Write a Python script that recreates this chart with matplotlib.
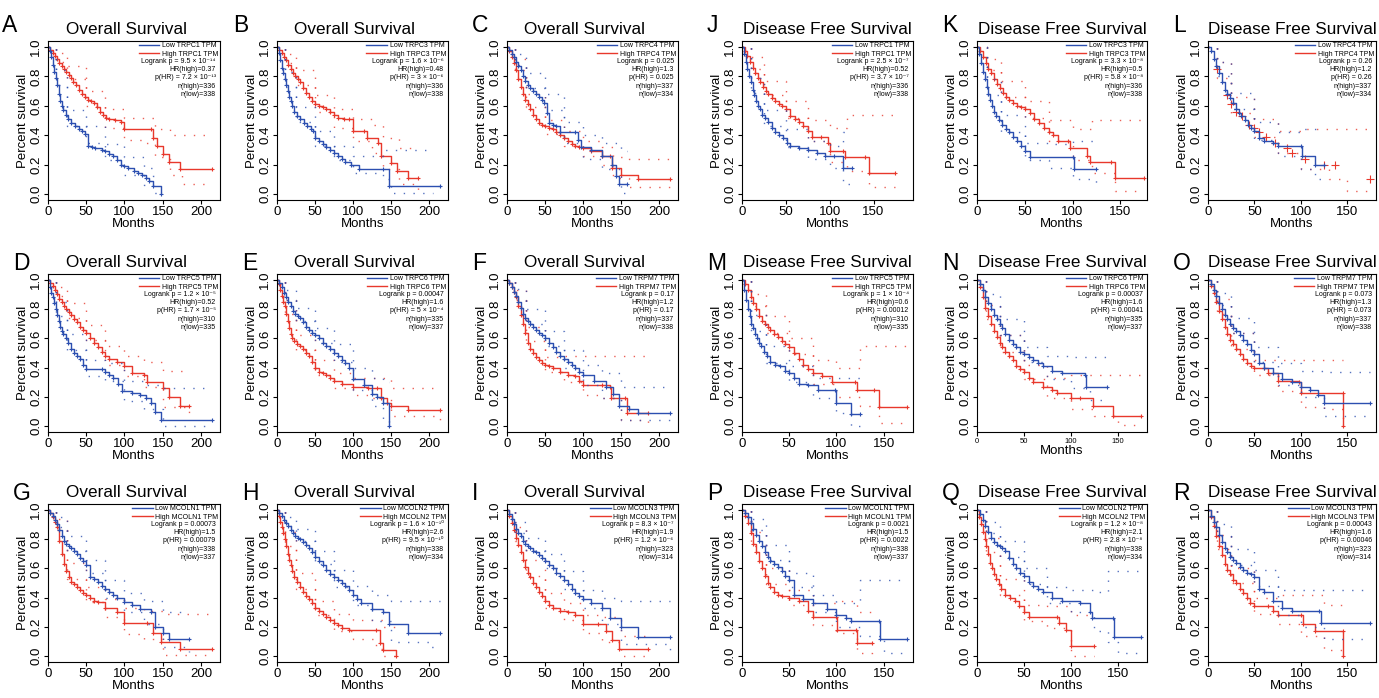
import matplotlib
matplotlib.use('Agg')
import matplotlib.pyplot as plt
from matplotlib.lines import Line2D

plt.rcParams['font.family'] = ['Liberation Sans', 'DejaVu Sans']

# ---- panel text ----
PANEL_IDS = list("ABCDEFGHIJKLMNOPQR")
GENES = ['TRPC1', 'TRPC3', 'TRPC4', 'TRPC5', 'TRPC6', 'TRPM7', 'MCOLN1', 'MCOLN2', 'MCOLN3',
         'TRPC1', 'TRPC3', 'TRPC4', 'TRPC5', 'TRPC6', 'TRPM7', 'MCOLN1', 'MCOLN2', 'MCOLN3']
LOGRANK_P = ['9.5e-14', '1.6e-6', '0.025', '1.2e-5', '0.00047', '0.17', '0.00073', '1.6e-10', '8.3e-7',
             '2.5e-7', '3.3e-8', '0.26', '1e-4', '0.00037', '0.073', '0.0021', '1.2e-8', '0.00043']
HR_HIGH = ['0.37', '0.48', '1.3', '0.52', '1.6', '1.2', '1.5', '2.6', '1.9',
           '0.52', '0.5', '1.2', '0.6', '1.6', '1.3', '1.5', '2.1', '1.6']
P_HR = ['7.2e-13', '3e-6', '0.025', '1.7e-5', '5e-4', '0.17', '0.00079', '9.5e-10', '1.2e-6',
        '3.7e-7', '5.8e-8', '0.26', '0.00012', '0.00041', '0.073', '0.0022', '2.8e-8', '0.00046']
N_HIGH = [336, 336, 337, 310, 335, 337, 338, 338, 323, 336, 336, 337, 310, 335, 337, 338, 338, 323]
N_LOW = [338, 338, 334, 335, 337, 338, 337, 334, 314, 338, 338, 334, 335, 337, 338, 337, 334, 314]

GRID = [['A', 'B', 'C', 'J', 'K', 'L'],
        ['D', 'E', 'F', 'M', 'N', 'O'],
        ['G', 'H', 'I', 'P', 'Q', 'R']]

OS_TICKS = [0, 50, 100, 150, 200]
DFS_TICKS = [0, 50, 100, 150]
Y_TICKS = [0.0, 0.2, 0.4, 0.6, 0.8, 1.0]

# ---- curves: (months, survival) and CI: (months, lower, upper) ----
A_low = [(0, 1.0), (2, 0.97), (4, 0.93), (6, 0.88), (8, 0.83), (10, 0.79), (12, 0.74), (14, 0.68), (16, 0.63),
         (18, 0.60), (20, 0.57), (23, 0.54), (26, 0.51), (30, 0.48), (35, 0.46), (40, 0.44), (44, 0.43), (48, 0.41),
         (52, 0.33), (58, 0.32), (62, 0.31), (70, 0.30), (75, 0.29), (80, 0.27), (85, 0.26), (90, 0.23), (95, 0.20),
         (100, 0.19), (105, 0.18), (112, 0.16), (118, 0.14), (123, 0.13), (128, 0.11), (132, 0.09), (137, 0.055),
         (148, 0.0)]
A_low_ci = [(0, 1, 1), (10, 0.74, 0.84), (25, 0.46, 0.57), (50, 0.35, 0.46), (75, 0.23, 0.34), (100, 0.13, 0.25),
            (125, 0.06, 0.18), (137, 0.01, 0.12), (148, 0.0, 0.12)]
A_high = [(0, 1.0), (3, 0.98), (6, 0.96), (9, 0.94), (12, 0.92), (15, 0.89), (18, 0.87), (21, 0.85), (24, 0.83),
          (27, 0.81), (30, 0.79), (33, 0.76), (36, 0.74), (40, 0.71), (44, 0.68), (48, 0.66), (52, 0.64), (56, 0.63),
          (60, 0.62), (64, 0.59), (68, 0.56), (72, 0.54), (76, 0.52), (80, 0.51), (88, 0.50), (95, 0.49), (100, 0.44),
          (135, 0.44), (137, 0.38), (142, 0.33), (150, 0.27), (158, 0.22), (173, 0.17), (215, 0.17)]
A_high_ci = [(0, 1, 1), (10, 0.90, 0.96), (25, 0.78, 0.87), (50, 0.60, 0.70), (75, 0.45, 0.58), (100, 0.37, 0.52),
             (125, 0.35, 0.52), (140, 0.25, 0.44), (160, 0.13, 0.40), (175, 0.07, 0.40), (215, 0.07, 0.40)]

B_low = [(0, 1.0), (2, 0.96), (4, 0.91), (6, 0.86), (8, 0.82), (10, 0.78), (12, 0.74), (14, 0.70), (16, 0.66),
         (18, 0.63), (20, 0.60), (23, 0.56), (26, 0.53), (30, 0.51), (35, 0.48), (40, 0.46), (45, 0.44), (48, 0.43),
         (50, 0.38), (55, 0.36), (60, 0.34), (65, 0.32), (70, 0.30), (75, 0.28), (80, 0.26), (85, 0.24), (90, 0.22),
         (98, 0.20), (108, 0.17), (140, 0.17), (148, 0.055), (215, 0.055)]
B_low_ci = [(0, 1, 1), (10, 0.73, 0.83), (25, 0.49, 0.59), (50, 0.33, 0.43), (75, 0.23, 0.33), (100, 0.14, 0.26),
            (140, 0.10, 0.30), (150, 0.01, 0.30), (205, 0.01, 0.30)]
B_high = [(0, 1.0), (3, 0.98), (6, 0.96), (9, 0.93), (12, 0.91), (15, 0.88), (18, 0.85), (21, 0.82), (24, 0.80),
          (27, 0.78), (30, 0.76), (34, 0.72), (38, 0.69), (42, 0.66), (46, 0.63), (50, 0.61), (55, 0.60), (60, 0.59),
          (65, 0.58), (70, 0.56), (75, 0.54), (80, 0.52), (88, 0.51), (95, 0.51), (100, 0.43), (115, 0.43),
          (118, 0.38), (133, 0.35), (137, 0.26), (150, 0.21), (158, 0.16), (173, 0.11), (185, 0.11)]
B_high_ci = [(0, 1, 1), (10, 0.89, 0.95), (25, 0.74, 0.84), (50, 0.56, 0.67), (75, 0.45, 0.58), (100, 0.36, 0.51),
             (125, 0.28, 0.47), (140, 0.17, 0.38), (160, 0.07, 0.31), (185, 0.03, 0.31)]

C_low = [(0, 1.0), (3, 0.98), (6, 0.95), (9, 0.93), (12, 0.90), (15, 0.87), (18, 0.84), (21, 0.80), (24, 0.77),
         (27, 0.74), (30, 0.72), (34, 0.70), (38, 0.68), (42, 0.66), (46, 0.64), (49, 0.62), (52, 0.55), (55, 0.48),
         (60, 0.47), (65, 0.46), (70, 0.42), (90, 0.42), (93, 0.37), (98, 0.32), (110, 0.30), (125, 0.26),
         (138, 0.20), (143, 0.12), (148, 0.07), (158, 0.07)]
C_low_ci = [(0, 1, 1), (10, 0.88, 0.95), (25, 0.72, 0.82), (50, 0.57, 0.68), (75, 0.35, 0.49), (100, 0.24, 0.40),
            (125, 0.17, 0.35), (150, 0.01, 0.29), (158, 0.01, 0.29)]
C_high = [(0, 1.0), (3, 0.97), (6, 0.93), (9, 0.89), (12, 0.84), (15, 0.78), (18, 0.73), (21, 0.68), (24, 0.64),
          (27, 0.61), (30, 0.58), (34, 0.54), (38, 0.51), (42, 0.48), (46, 0.47), (50, 0.46), (55, 0.45), (60, 0.44),
          (65, 0.42), (70, 0.40), (75, 0.38), (80, 0.36), (85, 0.34), (90, 0.33), (95, 0.32), (100, 0.31),
          (110, 0.29), (125, 0.26), (135, 0.26), (138, 0.18), (150, 0.13), (173, 0.10), (215, 0.10)]
C_high_ci = [(0, 1, 1), (10, 0.84, 0.92), (25, 0.59, 0.68), (50, 0.41, 0.50), (75, 0.33, 0.43), (100, 0.26, 0.36),
             (125, 0.20, 0.32), (140, 0.11, 0.25), (160, 0.05, 0.24), (215, 0.03, 0.24)]

D_low = [(0, 1.0), (2, 0.95), (4, 0.91), (6, 0.88), (8, 0.84), (10, 0.80), (12, 0.76), (14, 0.72), (16, 0.68),
         (18, 0.65), (20, 0.63), (23, 0.60), (26, 0.57), (30, 0.53), (34, 0.50), (38, 0.48), (42, 0.46), (46, 0.42),
         (50, 0.39), (70, 0.39), (75, 0.37), (80, 0.35), (85, 0.33), (92, 0.29), (97, 0.24), (110, 0.23),
         (120, 0.21), (128, 0.19), (135, 0.16), (140, 0.10), (148, 0.04), (215, 0.04)]
D_low_ci = [(0, 1, 1), (10, 0.75, 0.85), (25, 0.52, 0.63), (50, 0.34, 0.45), (75, 0.31, 0.43), (100, 0.17, 0.31),
            (125, 0.12, 0.28), (150, 0.0, 0.26), (205, 0.0, 0.26)]
D_high = [(0, 1.0), (3, 0.98), (6, 0.96), (9, 0.93), (12, 0.90), (15, 0.87), (18, 0.85), (21, 0.82), (24, 0.80),
          (27, 0.78), (30, 0.76), (34, 0.73), (38, 0.71), (42, 0.68), (46, 0.66), (50, 0.64), (55, 0.60), (60, 0.57),
          (65, 0.54), (70, 0.51), (75, 0.48), (80, 0.46), (90, 0.44), (100, 0.41), (110, 0.36), (125, 0.35),
          (130, 0.30), (150, 0.26), (158, 0.20), (173, 0.14), (185, 0.14)]
D_high_ci = [(0, 1, 1), (10, 0.89, 0.95), (25, 0.74, 0.84), (50, 0.59, 0.69), (75, 0.42, 0.55), (100, 0.34, 0.48),
             (125, 0.27, 0.44), (150, 0.13, 0.38), (185, 0.04, 0.38)]

E_low = [(0, 1.0), (3, 0.98), (6, 0.95), (9, 0.91), (12, 0.88), (15, 0.85), (18, 0.82), (21, 0.79), (24, 0.77),
         (27, 0.75), (30, 0.74), (34, 0.71), (38, 0.68), (42, 0.66), (46, 0.64), (50, 0.62), (55, 0.60), (60, 0.57),
         (65, 0.55), (70, 0.53), (75, 0.50), (80, 0.48), (85, 0.45), (90, 0.43), (95, 0.40), (100, 0.32),
         (115, 0.28), (125, 0.22), (132, 0.20), (140, 0.16), (148, 0.0)]
E_low_ci = [(0, 1, 1), (10, 0.86, 0.93), (25, 0.72, 0.81), (50, 0.57, 0.67), (75, 0.44, 0.56), (100, 0.25, 0.40),
            (125, 0.14, 0.33), (140, 0.05, 0.30), (148, 0.0, 0.30)]
E_high = [(0, 1.0), (2, 0.97), (4, 0.93), (6, 0.89), (8, 0.85), (10, 0.82), (12, 0.77), (14, 0.72), (16, 0.67),
          (18, 0.63), (20, 0.60), (23, 0.58), (26, 0.56), (30, 0.55), (34, 0.53), (38, 0.50), (42, 0.48), (46, 0.44),
          (50, 0.40), (55, 0.37), (60, 0.36), (65, 0.35), (70, 0.33), (75, 0.31), (85, 0.29), (100, 0.27),
          (120, 0.26), (132, 0.26), (137, 0.19), (145, 0.16), (150, 0.14), (173, 0.11), (215, 0.11)]
E_high_ci = [(0, 1, 1), (10, 0.77, 0.86), (25, 0.52, 0.62), (50, 0.35, 0.45), (75, 0.26, 0.36), (100, 0.21, 0.33),
             (125, 0.19, 0.33), (150, 0.07, 0.26), (215, 0.04, 0.26)]

F_low = [(0, 1.0), (3, 0.98), (6, 0.95), (9, 0.92), (12, 0.89), (15, 0.85), (18, 0.81), (21, 0.77), (24, 0.74),
         (27, 0.72), (30, 0.70), (34, 0.68), (38, 0.66), (42, 0.64), (46, 0.62), (50, 0.60), (55, 0.57), (60, 0.54),
         (65, 0.51), (70, 0.48), (75, 0.46), (80, 0.44), (85, 0.42), (90, 0.40), (95, 0.37), (100, 0.35),
         (115, 0.31), (130, 0.27), (140, 0.22), (148, 0.14), (160, 0.12), (173, 0.09), (215, 0.09)]
F_low_ci = [(0, 1, 1), (10, 0.87, 0.94), (25, 0.70, 0.80), (50, 0.55, 0.65), (75, 0.40, 0.52), (100, 0.28, 0.42),
            (125, 0.19, 0.36), (150, 0.04, 0.27), (215, 0.04, 0.27)]
F_high = [(0, 1.0), (3, 0.98), (6, 0.95), (9, 0.92), (12, 0.88), (15, 0.82), (18, 0.76), (21, 0.70), (24, 0.64),
          (27, 0.57), (30, 0.53), (34, 0.50), (38, 0.47), (42, 0.45), (46, 0.43), (50, 0.42), (55, 0.41), (60, 0.40),
          (70, 0.37), (80, 0.35), (90, 0.34), (95, 0.31), (100, 0.28), (125, 0.28), (135, 0.27), (137, 0.19),
          (155, 0.19), (158, 0.09), (185, 0.09)]
F_high_ci = [(0, 1, 1), (10, 0.86, 0.93), (25, 0.58, 0.68), (50, 0.37, 0.47), (75, 0.30, 0.48), (100, 0.21, 0.48),
             (125, 0.19, 0.48), (150, 0.04, 0.48), (185, 0.02, 0.48)]

G_low = [(0, 1.0), (3, 0.98), (6, 0.96), (9, 0.93), (12, 0.90), (15, 0.86), (18, 0.82), (21, 0.79), (24, 0.77),
         (27, 0.75), (30, 0.74), (34, 0.72), (38, 0.70), (42, 0.67), (46, 0.65), (50, 0.62), (55, 0.54), (60, 0.53),
         (65, 0.51), (70, 0.48), (75, 0.46), (80, 0.44), (85, 0.42), (90, 0.40), (100, 0.37), (110, 0.35),
         (120, 0.32), (135, 0.30), (140, 0.20), (150, 0.16), (158, 0.12), (185, 0.12)]
G_low_ci = [(0, 1, 1), (10, 0.88, 0.95), (25, 0.72, 0.82), (50, 0.57, 0.66), (75, 0.40, 0.52), (100, 0.30, 0.43),
            (125, 0.22, 0.38), (150, 0.06, 0.30), (185, 0.03, 0.30)]
G_high = [(0, 1.0), (3, 0.98), (6, 0.95), (9, 0.92), (12, 0.88), (15, 0.79), (18, 0.70), (21, 0.63), (24, 0.58),
          (27, 0.54), (30, 0.51), (34, 0.49), (38, 0.47), (42, 0.45), (46, 0.43), (50, 0.42), (55, 0.40), (60, 0.38),
          (65, 0.37), (75, 0.33), (90, 0.30), (100, 0.23), (130, 0.23), (137, 0.16), (148, 0.10), (173, 0.05),
          (215, 0.05)]
G_high_ci = [(0, 1, 1), (10, 0.86, 0.94), (25, 0.53, 0.64), (50, 0.37, 0.47), (75, 0.27, 0.39), (100, 0.15, 0.33),
             (125, 0.12, 0.31), (150, 0.01, 0.29), (215, 0.01, 0.29)]

H_low = [(0, 1.0), (3, 0.98), (6, 0.96), (9, 0.93), (12, 0.91), (15, 0.89), (18, 0.86), (21, 0.84), (24, 0.82),
         (27, 0.81), (30, 0.80), (34, 0.78), (38, 0.76), (42, 0.74), (46, 0.71), (50, 0.68), (55, 0.65), (60, 0.62),
         (65, 0.59), (70, 0.56), (75, 0.54), (80, 0.52), (85, 0.50), (90, 0.48), (95, 0.45), (100, 0.42),
         (105, 0.39), (110, 0.36), (125, 0.32), (140, 0.30), (147, 0.22), (173, 0.16), (215, 0.16)]
H_low_ci = [(0, 1, 1), (10, 0.89, 0.95), (25, 0.79, 0.87), (50, 0.63, 0.72), (75, 0.47, 0.59), (100, 0.35, 0.48),
            (125, 0.24, 0.42), (150, 0.10, 0.38), (200, 0.06, 0.38), (215, 0.06, 0.38)]
H_high = [(0, 1.0), (2, 0.96), (4, 0.92), (6, 0.88), (8, 0.84), (10, 0.80), (12, 0.75), (14, 0.70), (16, 0.66),
          (18, 0.62), (20, 0.58), (23, 0.54), (26, 0.51), (30, 0.47), (34, 0.44), (38, 0.41), (42, 0.39), (46, 0.36),
          (50, 0.33), (55, 0.31), (60, 0.29), (65, 0.27), (70, 0.25), (75, 0.23), (80, 0.21), (85, 0.19), (95, 0.18),
          (130, 0.18), (135, 0.09), (140, 0.04), (157, 0.0)]
H_high_ci = [(0, 1, 1), (10, 0.75, 0.85), (25, 0.46, 0.57), (50, 0.28, 0.38), (75, 0.17, 0.29), (100, 0.12, 0.25),
             (130, 0.05, 0.25), (140, 0.0, 0.20), (157, 0.0, 0.20)]

I_low = [(0, 1.0), (3, 0.97), (6, 0.94), (9, 0.90), (12, 0.87), (15, 0.84), (18, 0.82), (21, 0.79), (24, 0.77),
         (27, 0.75), (30, 0.74), (34, 0.72), (38, 0.71), (42, 0.69), (46, 0.67), (50, 0.65), (55, 0.62), (60, 0.60),
         (65, 0.57), (70, 0.55), (75, 0.52), (80, 0.49), (85, 0.46), (90, 0.43), (95, 0.41), (100, 0.39),
         (110, 0.36), (125, 0.33), (135, 0.26), (150, 0.20), (173, 0.13), (215, 0.13)]
I_low_ci = [(0, 1, 1), (10, 0.84, 0.92), (25, 0.72, 0.81), (50, 0.60, 0.70), (75, 0.46, 0.58), (100, 0.33, 0.45),
            (125, 0.22, 0.40), (150, 0.08, 0.38), (215, 0.04, 0.38)]
I_high = [(0, 1.0), (3, 0.96), (6, 0.91), (9, 0.86), (12, 0.81), (15, 0.76), (18, 0.71), (21, 0.66), (24, 0.61),
          (27, 0.57), (30, 0.54), (34, 0.50), (38, 0.47), (42, 0.44), (46, 0.41), (50, 0.38), (55, 0.35), (60, 0.33),
          (70, 0.31), (80, 0.30), (90, 0.28), (100, 0.22), (120, 0.22), (130, 0.17), (138, 0.11), (148, 0.05),
          (185, 0.05)]
I_high_ci = [(0, 1, 1), (10, 0.79, 0.88), (25, 0.55, 0.66), (50, 0.33, 0.43), (75, 0.25, 0.36), (100, 0.16, 0.28),
             (125, 0.10, 0.27), (150, 0.0, 0.14), (185, 0.0, 0.14)]

J_low = [(0, 1.0), (2, 0.95), (4, 0.90), (6, 0.85), (8, 0.80), (10, 0.76), (12, 0.71), (14, 0.67), (16, 0.63),
         (18, 0.60), (20, 0.58), (23, 0.54), (26, 0.52), (30, 0.49), (34, 0.45), (38, 0.42), (42, 0.40), (47, 0.38),
         (51, 0.35), (55, 0.33), (65, 0.31), (75, 0.30), (85, 0.28), (95, 0.26), (105, 0.26), (115, 0.18),
         (125, 0.18)]
J_low_ci = [(0, 1, 1), (10, 0.69, 0.79), (25, 0.46, 0.57), (50, 0.32, 0.44), (75, 0.24, 0.36), (100, 0.18, 0.33),
            (115, 0.07, 0.42), (125, 0.07, 0.42)]
J_high = [(0, 1.0), (3, 0.97), (6, 0.94), (9, 0.90), (12, 0.86), (15, 0.82), (18, 0.79), (21, 0.76), (24, 0.73),
          (27, 0.70), (30, 0.68), (34, 0.65), (38, 0.63), (42, 0.61), (46, 0.60), (50, 0.58), (55, 0.53), (60, 0.51),
          (65, 0.49), (70, 0.46), (75, 0.43), (80, 0.39), (90, 0.39), (98, 0.35), (100, 0.29), (115, 0.29),
          (118, 0.25), (140, 0.25), (145, 0.14), (175, 0.14)]
J_high_ci = [(0, 1, 1), (10, 0.85, 0.93), (25, 0.67, 0.77), (50, 0.52, 0.63), (75, 0.36, 0.50), (100, 0.22, 0.45),
             (120, 0.16, 0.54), (145, 0.05, 0.54), (175, 0.05, 0.54)]

K_low = [(0, 1.0), (2, 0.95), (4, 0.89), (6, 0.83), (8, 0.78), (10, 0.73), (12, 0.68), (14, 0.64), (16, 0.60),
         (18, 0.56), (20, 0.53), (23, 0.50), (26, 0.47), (30, 0.44), (34, 0.42), (38, 0.39), (42, 0.36), (46, 0.33),
         (50, 0.29), (55, 0.25), (100, 0.25), (102, 0.17), (125, 0.17)]
K_low_ci = [(0, 1, 1), (10, 0.67, 0.78), (25, 0.42, 0.54), (50, 0.23, 0.35), (75, 0.18, 0.34), (100, 0.10, 0.36),
            (125, 0.07, 0.36)]
K_high = [(0, 1.0), (3, 0.97), (6, 0.93), (9, 0.89), (12, 0.85), (15, 0.82), (18, 0.78), (21, 0.75), (24, 0.72),
          (27, 0.69), (30, 0.66), (34, 0.64), (38, 0.62), (42, 0.60), (46, 0.59), (50, 0.58), (55, 0.55), (60, 0.51),
          (65, 0.48), (70, 0.45), (75, 0.42), (80, 0.40), (85, 0.36), (95, 0.36), (97, 0.31), (115, 0.26),
          (118, 0.22), (140, 0.22), (145, 0.11), (175, 0.11)]
K_high_ci = [(0, 1, 1), (10, 0.84, 0.92), (25, 0.66, 0.77), (50, 0.52, 0.63), (75, 0.36, 0.50), (100, 0.23, 0.44),
             (120, 0.14, 0.50), (145, 0.02, 0.50), (175, 0.02, 0.50)]

L_low = [(0, 1.0), (3, 0.97), (6, 0.92), (9, 0.87), (12, 0.82), (15, 0.76), (18, 0.71), (21, 0.68), (24, 0.65),
         (27, 0.62), (30, 0.58), (33, 0.55), (36, 0.53), (40, 0.50), (43, 0.47), (46, 0.45), (50, 0.43), (55, 0.38),
         (60, 0.36), (70, 0.35), (75, 0.33), (100, 0.33), (101, 0.26), (115, 0.20), (125, 0.20)]
L_low_ci = [(0, 1, 1), (10, 0.80, 0.90), (25, 0.58, 0.69), (50, 0.37, 0.49), (75, 0.26, 0.42), (100, 0.17, 0.44),
            (115, 0.10, 0.44), (125, 0.10, 0.44)]
L_high = [(0, 1.0), (10, 0.85), (20, 0.67), (25, 0.61), (30, 0.56), (37, 0.53), (44, 0.47), (50, 0.45), (55, 0.42),
          (63, 0.39), (72, 0.35), (85, 0.31), (90, 0.28), (105, 0.24), (125, 0.20), (137, 0.20), (175, 0.10)]
L_high_ci = [(0, 1, 1), (10, 0.79, 0.90), (25, 0.55, 0.66), (50, 0.39, 0.51), (75, 0.28, 0.43), (100, 0.17, 0.44),
             (130, 0.10, 0.44), (150, 0.02, 0.44), (175, 0.02, 0.44)]

M_low = [(0, 1.0), (2, 0.93), (4, 0.86), (6, 0.80), (8, 0.75), (10, 0.70), (12, 0.67), (14, 0.63), (16, 0.60),
         (18, 0.57), (20, 0.55), (23, 0.51), (26, 0.48), (30, 0.44), (35, 0.42), (40, 0.41), (45, 0.38), (50, 0.36),
         (55, 0.33), (60, 0.29), (70, 0.28), (80, 0.25), (98, 0.25), (100, 0.16), (115, 0.08), (125, 0.08)]
M_low_ci = [(0, 1, 1), (10, 0.65, 0.76), (25, 0.43, 0.55), (50, 0.30, 0.41), (75, 0.19, 0.33), (100, 0.09, 0.33),
            (115, 0.0, 0.33), (125, 0.0, 0.33)]
M_high = [(0, 1.0), (3, 0.97), (6, 0.93), (9, 0.88), (12, 0.84), (15, 0.80), (18, 0.75), (21, 0.72), (24, 0.70),
          (27, 0.68), (30, 0.66), (34, 0.63), (38, 0.61), (42, 0.58), (46, 0.56), (50, 0.54), (55, 0.50), (60, 0.46),
          (65, 0.42), (70, 0.39), (75, 0.36), (85, 0.34), (95, 0.30), (120, 0.30), (122, 0.25), (140, 0.25),
          (145, 0.13), (175, 0.13)]
M_high_ci = [(0, 1, 1), (10, 0.82, 0.90), (25, 0.64, 0.75), (50, 0.49, 0.60), (75, 0.29, 0.45), (100, 0.20, 0.40),
             (125, 0.14, 0.55), (145, 0.02, 0.55), (175, 0.02, 0.55)]

N_low = [(0, 1.0), (3, 0.97), (6, 0.93), (9, 0.88), (12, 0.84), (15, 0.80), (18, 0.76), (21, 0.73), (24, 0.70),
         (27, 0.67), (30, 0.63), (34, 0.59), (38, 0.56), (42, 0.54), (46, 0.51), (50, 0.49), (55, 0.47), (60, 0.45),
         (65, 0.43), (70, 0.41), (80, 0.38), (90, 0.36), (115, 0.35), (116, 0.27), (138, 0.27)]
N_low_ci = [(0, 1, 1), (10, 0.82, 0.90), (25, 0.62, 0.73), (50, 0.44, 0.54), (75, 0.32, 0.48), (100, 0.26, 0.47),
            (120, 0.18, 0.47), (138, 0.18, 0.47)]
N_high = [(0, 1.0), (3, 0.95), (6, 0.88), (9, 0.81), (12, 0.75), (15, 0.70), (18, 0.65), (21, 0.61), (24, 0.57),
          (27, 0.54), (30, 0.51), (34, 0.48), (38, 0.45), (42, 0.41), (46, 0.39), (50, 0.37), (55, 0.33), (60, 0.30),
          (70, 0.27), (80, 0.25), (85, 0.23), (100, 0.19), (110, 0.19), (123, 0.14), (145, 0.07), (175, 0.07)]
N_high_ci = [(0, 1, 1), (10, 0.73, 0.83), (25, 0.51, 0.62), (50, 0.32, 0.42), (75, 0.19, 0.33), (100, 0.12, 0.35),
             (125, 0.07, 0.35), (150, 0.01, 0.35), (175, 0.01, 0.35)]

O_low = [(0, 1.0), (3, 0.97), (6, 0.93), (9, 0.89), (12, 0.84), (15, 0.80), (18, 0.76), (21, 0.73), (24, 0.70),
         (27, 0.67), (30, 0.65), (34, 0.62), (38, 0.59), (42, 0.56), (46, 0.52), (50, 0.49), (55, 0.43), (60, 0.40),
         (70, 0.36), (80, 0.32), (90, 0.30), (100, 0.27), (110, 0.25), (118, 0.21), (125, 0.16), (175, 0.16)]
O_low_ci = [(0, 1, 1), (10, 0.83, 0.91), (25, 0.64, 0.74), (50, 0.44, 0.54), (75, 0.28, 0.43), (100, 0.20, 0.38),
            (125, 0.07, 0.37), (175, 0.07, 0.37)]
O_high = [(0, 1.0), (3, 0.96), (6, 0.91), (9, 0.85), (12, 0.79), (15, 0.73), (18, 0.68), (21, 0.63), (24, 0.59),
          (27, 0.56), (30, 0.53), (34, 0.49), (38, 0.46), (42, 0.43), (46, 0.41), (50, 0.40), (60, 0.40), (65, 0.36),
          (75, 0.31), (98, 0.30), (100, 0.23), (145, 0.23), (145, 0.0)]
O_high_ci = [(0, 1, 1), (10, 0.77, 0.87), (25, 0.53, 0.64), (50, 0.35, 0.45), (75, 0.24, 0.45), (100, 0.13, 0.45),
             (125, 0.12, 0.45), (145, 0.0, 0.45)]

P_low = [(0, 1.0), (3, 0.98), (6, 0.95), (9, 0.91), (12, 0.87), (15, 0.83), (18, 0.79), (21, 0.75), (24, 0.71),
         (27, 0.68), (30, 0.65), (34, 0.63), (38, 0.61), (42, 0.58), (46, 0.55), (50, 0.52), (55, 0.42), (65, 0.39),
         (75, 0.36), (90, 0.32), (100, 0.28), (110, 0.26), (115, 0.24), (145, 0.24), (146, 0.12), (175, 0.12)]
P_low_ci = [(0, 1, 1), (10, 0.86, 0.94), (25, 0.66, 0.76), (50, 0.47, 0.57), (75, 0.30, 0.42), (100, 0.20, 0.36),
            (125, 0.14, 0.52), (150, 0.02, 0.52), (175, 0.02, 0.52)]
P_high = [(0, 1.0), (3, 0.96), (6, 0.91), (9, 0.84), (12, 0.77), (15, 0.71), (18, 0.65), (21, 0.60), (24, 0.55),
          (27, 0.50), (30, 0.47), (34, 0.44), (38, 0.42), (42, 0.41), (50, 0.40), (60, 0.38), (70, 0.31), (75, 0.27),
          (100, 0.27), (101, 0.18), (121, 0.18), (122, 0.09), (138, 0.09)]
P_high_ci = [(0, 1, 1), (10, 0.75, 0.85), (25, 0.49, 0.60), (50, 0.35, 0.45), (75, 0.21, 0.36), (100, 0.16, 0.38),
             (122, 0.02, 0.30), (138, 0.0, 0.30)]

Q_low = [(0, 1.0), (3, 0.97), (6, 0.93), (9, 0.89), (12, 0.85), (15, 0.81), (18, 0.78), (21, 0.76), (24, 0.75),
         (27, 0.74), (30, 0.72), (34, 0.67), (38, 0.63), (42, 0.60), (46, 0.57), (50, 0.55), (55, 0.51), (60, 0.48),
         (65, 0.46), (70, 0.44), (80, 0.40), (90, 0.38), (110, 0.36), (120, 0.30), (122, 0.26), (145, 0.26),
         (146, 0.13), (175, 0.13)]
Q_low_ci = [(0, 1, 1), (10, 0.84, 0.92), (25, 0.68, 0.79), (50, 0.49, 0.60), (75, 0.36, 0.47), (100, 0.30, 0.45),
            (125, 0.17, 0.44), (140, 0.10, 0.58), (150, 0.02, 0.58), (175, 0.02, 0.58)]
Q_high = [(0, 1.0), (2, 0.95), (4, 0.90), (6, 0.85), (8, 0.80), (10, 0.75), (12, 0.70), (14, 0.64), (16, 0.60),
          (18, 0.56), (20, 0.53), (23, 0.49), (26, 0.46), (30, 0.42), (35, 0.40), (40, 0.38), (45, 0.34), (50, 0.30),
          (55, 0.27), (85, 0.27), (87, 0.23), (95, 0.18), (100, 0.07), (125, 0.07)]
Q_high_ci = [(0, 1, 1), (10, 0.71, 0.81), (25, 0.42, 0.53), (50, 0.24, 0.35), (75, 0.19, 0.34), (100, 0.0, 0.28),
             (125, 0.0, 0.28)]

R_low = [(0, 1.0), (3, 0.96), (6, 0.92), (9, 0.88), (12, 0.83), (15, 0.78), (18, 0.74), (21, 0.71), (24, 0.68),
         (27, 0.66), (30, 0.64), (34, 0.61), (38, 0.59), (42, 0.57), (46, 0.56), (50, 0.54), (55, 0.46), (60, 0.44),
         (70, 0.38), (80, 0.33), (90, 0.31), (120, 0.31), (122, 0.23), (175, 0.23)]
R_low_ci = [(0, 1, 1), (10, 0.82, 0.90), (25, 0.62, 0.73), (50, 0.48, 0.59), (75, 0.28, 0.45), (100, 0.20, 0.45),
            (125, 0.12, 0.45), (175, 0.12, 0.45)]
R_high = [(0, 1.0), (3, 0.95), (6, 0.89), (9, 0.82), (12, 0.75), (15, 0.69), (18, 0.63), (21, 0.59), (24, 0.56),
          (27, 0.52), (30, 0.50), (34, 0.46), (38, 0.43), (42, 0.40), (45, 0.36), (50, 0.34), (65, 0.34), (70, 0.31),
          (75, 0.28), (100, 0.28), (102, 0.22), (115, 0.17), (145, 0.17), (145, 0.0)]
R_high_ci = [(0, 1, 1), (10, 0.73, 0.83), (25, 0.50, 0.60), (50, 0.29, 0.40), (75, 0.22, 0.42), (100, 0.14, 0.42),
             (125, 0.04, 0.35), (145, 0.0, 0.35)]

CURVES = {
    'A': (A_low, A_low_ci, A_high, A_high_ci), 'B': (B_low, B_low_ci, B_high, B_high_ci),
    'C': (C_low, C_low_ci, C_high, C_high_ci), 'D': (D_low, D_low_ci, D_high, D_high_ci),
    'E': (E_low, E_low_ci, E_high, E_high_ci), 'F': (F_low, F_low_ci, F_high, F_high_ci),
    'G': (G_low, G_low_ci, G_high, G_high_ci), 'H': (H_low, H_low_ci, H_high, H_high_ci),
    'I': (I_low, I_low_ci, I_high, I_high_ci), 'J': (J_low, J_low_ci, J_high, J_high_ci),
    'K': (K_low, K_low_ci, K_high, K_high_ci), 'L': (L_low, L_low_ci, L_high, L_high_ci),
    'M': (M_low, M_low_ci, M_high, M_high_ci), 'N': (N_low, N_low_ci, N_high, N_high_ci),
    'O': (O_low, O_low_ci, O_high, O_high_ci), 'P': (P_low, P_low_ci, P_high, P_high_ci),
    'Q': (Q_low, Q_low_ci, Q_high, Q_high_ci), 'R': (R_low, R_low_ci, R_high, R_high_ci),
}

BLUE = '#2c4fb0'
RED = '#e8382c'

# layout, in pixels of the 1379x698 canvas
W, H = 1379, 698
COL_LEFT = [48, 277, 507, 742, 977, 1208]
COL_RIGHT = [220, 448, 678, 913, 1147, 1376]
ROW_TOP = [41, 274, 504]
ROW_BOTTOM = [200, 432, 662]
LETTER_DY = [9, 4, 4]
LETTER_DX = {'A': -46, 'B': -44}
XMAX = {'J': 195, 'K': 178}

SUPERSCRIPT = str.maketrans('-0123456789', '\u207b\u2070\u00b9\u00b2\u00b3\u2074\u2075\u2076\u2077\u2078\u2079')


def sci(s):
    # turn "9.5e-14" into "9.5 x 10^-14" the way GEPIA prints it
    if 'e' in s:
        m, e = s.split('e')
        return m + ' \u00d7 10' + str(int(e)).translate(SUPERSCRIPT)
    return s


def draw_curve(ax, pts, ci, color, line=True, ms=3.5):
    t = [p[0] for p in pts]
    s = [p[1] for p in pts]
    ct = [p[0] for p in ci]
    # confidence bounds as sparse dotted steps
    ax.step(ct, [p[1] for p in ci], where='post', color=color, lw=1.0,
            ls=(0, (1, 6)), alpha=0.8)
    ax.step(ct, [p[2] for p in ci], where='post', color=color, lw=1.0,
            ls=(0, (1, 6)), alpha=0.8)
    if line:
        ax.step(t, s, where='post', color=color, lw=1.0)
    ax.plot(t[1:], s[1:], ls='none', marker='+', ms=ms, mew=0.8, color=color)


fig = plt.figure(figsize=(W / 100, H / 100), dpi=100)

for r, row in enumerate(GRID):
    for c, pid in enumerate(row):
        i = PANEL_IDS.index(pid)
        left = COL_LEFT[c] / W
        bottom = 1 - ROW_BOTTOM[r] / H
        width = (COL_RIGHT[c] - COL_LEFT[c]) / W
        height = (ROW_BOTTOM[r] - ROW_TOP[r]) / H
        ax = fig.add_axes([left, bottom, width, height])

        is_os = i < 9
        low, low_ci, high, high_ci = CURVES[pid]
        if pid == 'L':
            draw_curve(ax, high, high_ci, RED, line=False, ms=6)
        else:
            draw_curve(ax, high, high_ci, RED)
        draw_curve(ax, low, low_ci, BLUE)

        ax.set_xlim(0, 225 if is_os else XMAX.get(pid, 181))
        ax.set_ylim(-0.04, 1.04)
        ax.set_xticks(OS_TICKS if is_os else DFS_TICKS)
        ax.set_yticks(Y_TICKS)
        ax.set_yticklabels(['%.1f' % v for v in Y_TICKS], rotation=90, va='center')
        ax.tick_params(axis='x', labelsize=5.5 if pid == 'N' else 9.5, length=3, width=0.8, pad=1)
        ax.tick_params(axis='y', labelsize=9.5, length=3, width=0.8, pad=1)
        for sp in ax.spines.values():
            sp.set_linewidth(0.8)
        ax.set_xlabel('Months', fontsize=9.5, labelpad=0)
        ax.set_ylabel('Percent survival', fontsize=9.5, labelpad=1)
        ttl = ax.set_title('Overall Survival' if is_os else 'Disease Free Survival',
                           fontsize=12.3, pad=5)
        if is_os:
            ttl.set_x(0.5 - 8 / (COL_RIGHT[c] - COL_LEFT[c]))

        handles = [Line2D([], [], color=BLUE, lw=1.0), Line2D([], [], color=RED, lw=1.0)]
        ax.legend(handles, ['Low %s TPM' % GENES[i], 'High %s TPM' % GENES[i]],
                  loc='upper right', fontsize=5, frameon=False, handlelength=3,
                  handletextpad=0.4, borderaxespad=0.1, borderpad=0.1, labelspacing=0.2)
        stats = ['Logrank p = ' + sci(LOGRANK_P[i]),
                 'HR(high)=' + HR_HIGH[i],
                 'p(HR) = ' + sci(P_HR[i]),
                 'n(high)=' + str(N_HIGH[i]),
                 'n(low)=' + str(N_LOW[i])]
        for k, line in enumerate(stats):
            ax.annotate(line, xy=(0.975, 1.0), xycoords='axes fraction',
                        xytext=(0, -15.5 - 6.0 * k), textcoords='offset points',
                        ha='right', va='baseline', fontsize=5)

        dx = LETTER_DX.get(pid, -35)
        fig.text((COL_LEFT[c] + dx) / W, 1 - (ROW_TOP[r] - LETTER_DY[r]) / H, pid,
                 fontsize=16.5, ha='left', va='baseline')

fig.savefig('out.png', dpi=100)
